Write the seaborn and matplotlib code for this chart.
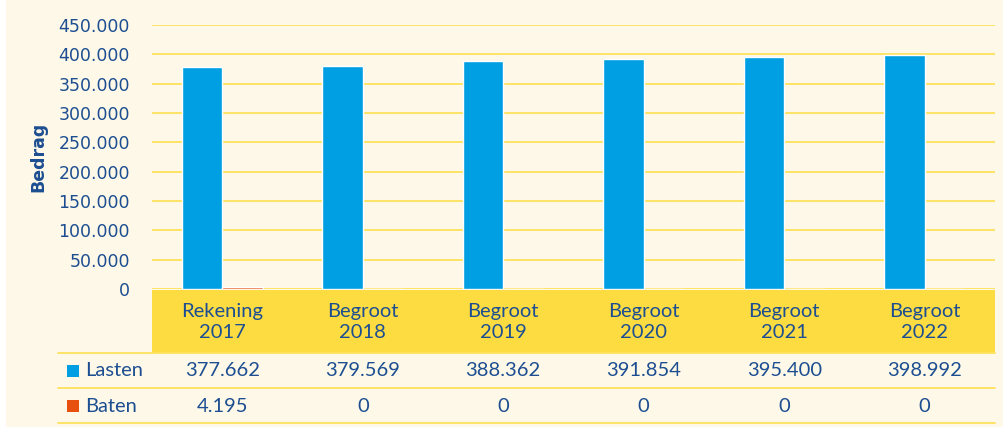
import pandas as pd
import seaborn as sns
import matplotlib.pyplot as plt
from matplotlib.patches import Rectangle
from matplotlib.transforms import blended_transform_factory

sns.set_theme(style='white')
plt.rcParams['font.family'] = ['DejaVu Sans']

categories = ['Rekening\n2017', 'Begroot\n2018', 'Begroot\n2019',
              'Begroot\n2020', 'Begroot\n2021', 'Begroot\n2022']
lasten = [377662, 379569, 388362, 391854, 395400, 398992]
baten = [4195, 0, 0, 0, 0, 0]
series = ['Lasten', 'Baten']

blue = '#009FE3'
orange = '#E8500F'
yellow = '#FDDC42'
grid_yellow = '#FFE15C'
cream = '#FEF8E8'
text_blue = '#1C4E91'

df = pd.DataFrame({'categorie': categories * 2,
                   'reeks': ['Lasten'] * 6 + ['Baten'] * 6,
                   'bedrag': lasten + baten})

fig = plt.figure(figsize=(10.04, 4.3), dpi=100, facecolor='white')
fig.patches.append(Rectangle((6 / 1004, 3 / 430), 998 / 1004, 427 / 430,
                             transform=fig.transFigure, facecolor=cream,
                             edgecolor='none', zorder=-10))

ax = fig.add_axes([152 / 1004, (430 - 289) / 430, 843 / 1004, 264 / 430])
ax.set_facecolor(cream)
ax.patch.set_alpha(0)

sns.barplot(data=df, x='categorie', y='bedrag', hue='reeks', hue_order=series,
            palette=[blue, orange], width=0.58, gap=0, saturation=1,
            ax=ax, legend=False, zorder=3)

ax.set_ylim(0, 450000)
ax.set_xlim(-0.5, len(categories) - 0.5)
ax.set_yticks(range(0, 450001, 50000))
ax.set_yticklabels(['0' if v == 0 else f'{v:,}'.replace(',', '.')
                    for v in range(0, 450001, 50000)])
ax.tick_params(axis='y', length=0, pad=16, labelsize=12.5, labelcolor=text_blue)
ax.set_xticks([])
ax.set_xlabel('')
ax.set_ylabel('')
ax.yaxis.grid(True, color=grid_yellow, linewidth=1.3, zorder=0)
ax.set_axisbelow(True)
for s in ax.spines.values():
    s.set_visible(False)

fig.text(38 / 1004, (430 - 157) / 430, 'Bedrag', rotation=90, ha='center',
         va='center', fontsize=12.5, fontweight='bold', color=text_blue)

# data table below the plot
tf = blended_transform_factory(ax.transData, fig.transFigure)
fig.patches.append(Rectangle((-0.5, (430 - 353) / 430), len(categories),
                             63 / 430, transform=tf, facecolor=yellow,
                             edgecolor='none', zorder=-5))
for y in [353, 388, 423]:
    fig.add_artist(plt.Line2D([58 / 1004, 995 / 1004],
                              [(430 - y) / 430] * 2, transform=fig.transFigure,
                              color=grid_yellow, linewidth=1.3))

tfont = dict(family=['Lato', 'DejaVu Sans'], fontsize=14.5, color=text_blue)
for i, cat in enumerate(categories):
    fig.text(i, (430 - 322) / 430, cat, transform=tf, ha='center',
             va='center', linespacing=1.3, **tfont)

rows = [('Lasten', lasten, blue, 371), ('Baten', baten, orange, 406)]
for name, vals, col, ypx in rows:
    yf = (430 - ypx) / 430
    fig.patches.append(Rectangle((67 / 1004, yf - 6 / 430), 12 / 1004,
                                 12 / 430, transform=fig.transFigure,
                                 facecolor=col, edgecolor='none'))
    fig.text(85 / 1004, yf, name, ha='left', va='center', **tfont)
    for i, v in enumerate(vals):
        lab = '0' if v == 0 else f'{v:,}'.replace(',', '.')
        fig.text(i, yf, lab, transform=tf, ha='center', va='center', **tfont)

fig.savefig('out.png', dpi=100, facecolor=fig.get_facecolor())
